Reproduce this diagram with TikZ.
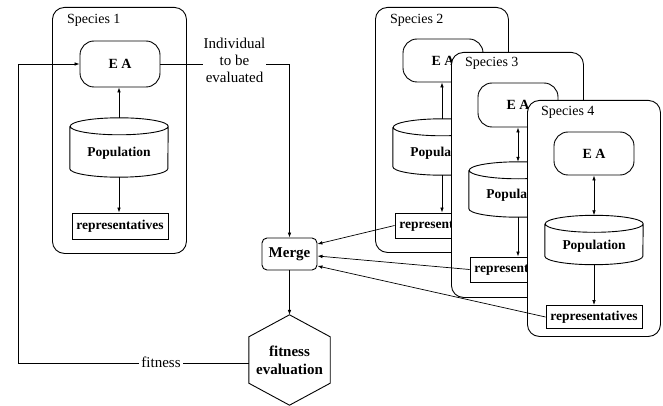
\documentclass[tikz,border=0pt]{standalone}
\usepackage{fontspec}
\setmainfont{Liberation Serif}
\usetikzlibrary{arrows.meta}
\tikzset{
  frame/.style={draw, line width=0.9pt, rounded corners=12pt, fill=white, anchor=north west, inner sep=0pt},
  eabox/.style={draw, line width=0.9pt, rounded corners=14pt, minimum width=80pt, minimum height=44pt, inner sep=0pt, fill=white, font=\fontsize{14}{16}\selectfont\bfseries},
  repbox/.style={draw, line width=0.9pt, minimum width=96pt, minimum height=25pt, inner sep=0pt, fill=white, font=\fontsize{13.5}{16}\selectfont\bfseries},
  popbox/.style={minimum width=98pt, inner sep=0pt, text height=18.5pt, text depth=0pt, font=\fontsize{13.5}{16}\selectfont\bfseries},
  title/.style={anchor=west, inner sep=0pt, font=\fontsize{14}{16}\selectfont},
  cylline/.style={line width=0.9pt},
  arr/.style={-{Latex[length=5pt,width=3.6pt]}, line width=0.7pt},
  darr/.style={{Latex[length=5pt,width=3.6pt]}-{Latex[length=5pt,width=3.6pt]}, line width=0.7pt},
  conn/.style={line width=0.7pt},
  mergebox/.style={draw, line width=0.9pt, rounded corners=5pt, minimum width=55pt, minimum height=32pt, inner sep=0pt, fill=white, font=\fontsize{15}{17}\selectfont\bfseries},
  hexnode/.style={minimum width=81pt, minimum height=90pt, inner sep=0pt, align=center, font=\fontsize{15}{18}\selectfont\bfseries},
  plain/.style={fill=white, inner sep=1pt, align=center, font=\fontsize{15}{17}\selectfont},
}
\newcommand\popcyl[2]{% node name, half height of rim
  \draw[cylline] ([yshift=-#2pt]#1.north west) -- ([yshift=#2pt]#1.south west)
    arc[start angle=180, end angle=360, x radius=49pt, y radius=#2pt]
    -- ([yshift=-#2pt]#1.north east)
    arc[start angle=0, end angle=360, x radius=49pt, y radius=#2pt];}
\begin{document}
\begin{tikzpicture}[x=1pt, y=-1pt]
\useasboundingbox (0,0) rectangle (663,406);

% ---------------- Species 1
\node[frame, minimum width=134pt, minimum height=246pt] (sp1) at (52,7) {};
\node[title] (t1) at (67,20) {Species 1};
\node[eabox, minimum height=46pt] (ea1) at (120,64) {E~A};
\node[popbox, minimum height=59pt] (pop1) at (119,147.5) {Population};
\popcyl{pop1}{8.5}
\node[repbox, minimum height=26pt] (rep1) at (120,226) {representatives};
\draw[arr] (pop1.north) -- (pop1.north |- ea1.south);
\draw[arr] (pop1.south) -- (pop1.south |- rep1.north);

% ---------------- Species 2
\node[frame, minimum width=133pt, minimum height=245pt] (sp2) at (375,7) {};
\node[title] (t2) at (390,20) {Species 2};
\node[eabox, minimum height=43pt] (ea2) at (443,60.5) {E~A};
\node[popbox, minimum height=56pt] (pop2) at (442,147) {Population};
\popcyl{pop2}{8.5}
\node[repbox] (rep2) at (443,225.5) {representatives};
\draw[arr] (pop2.north) -- (pop2.north |- ea2.south);
\draw[arr] (pop2.south) -- (pop2.south |- rep2.north);

% ---------------- Species 3
\node[frame, minimum width=132pt, minimum height=245pt] (sp3) at (451,52) {};
\node[title] (t3) at (465,63) {Species 3};
\node[eabox] (ea3) at (518,105) {E~A};
\node[popbox, minimum height=55pt] (pop3) at (518,189.5) {Population};
\popcyl{pop3}{8.5}
\node[repbox] (rep3) at (518,269.5) {representatives};
\draw[darr] (pop3.north) -- (pop3.north |- ea3.south);
\draw[arr] (pop3.south) -- (pop3.south |- rep3.north);

% ---------------- Species 4
\node[frame, minimum width=133pt, minimum height=236pt] (sp4) at (527,100) {};
\node[title] (t4) at (541,112) {Species 4};
\node[eabox, minimum height=43pt] (ea4) at (594,153.5) {E~A};
\node[popbox, minimum height=49pt] (pop4) at (594,240) {Population};
\popcyl{pop4}{8.5}
\node[repbox, minimum height=23pt] (rep4) at (594,317) {representatives};
\draw[darr] (pop4.north) -- (pop4.north |- ea4.south);
\draw[arr] (pop4.south) -- (pop4.south |- rep4.north);

% ---------------- Merge and fitness evaluation
\node[mergebox] (merge) at (289.5,254) {Merge};
\node[hexnode] (fe) at (289.5,360) {fitness\\evaluation};
\draw[line width=0.9pt] (fe.north) -- ([yshift=-22pt]fe.north east) -- ([yshift=22pt]fe.south east)
  -- (fe.south) -- ([yshift=22pt]fe.south west) -- ([yshift=-22pt]fe.north west) -- cycle;

% individual to be evaluated
\coordinate (turn) at (merge.north |- ea1.east);
\draw[arr] (ea1.east) -- (turn) -- (merge.north);
\node[plain] (indiv) at (234.5,60) {Individual\\to be\\evaluated};

% merge -> fitness evaluation
\draw[arr] (merge.south) -- (fe.north);

% fitness feedback
\coordinate (fbl) at (18,363);
\coordinate (ftop) at (18,64);
\draw[arr] ([yshift=-3pt]fe.west) -- (fbl) -- (ftop) -- (ea1.west);
\node[plain, inner sep=2pt] (fitlab) at (161,362) {fitness};

% representatives -> merge
\draw[arr] (rep2.west) -- ([yshift=10pt]merge.east);
\draw[arr] (rep3.west) -- ([yshift=-2pt]merge.east);
\draw[arr] (rep4.west) -- ([yshift=-12pt]merge.east);
\end{tikzpicture}
\end{document}
